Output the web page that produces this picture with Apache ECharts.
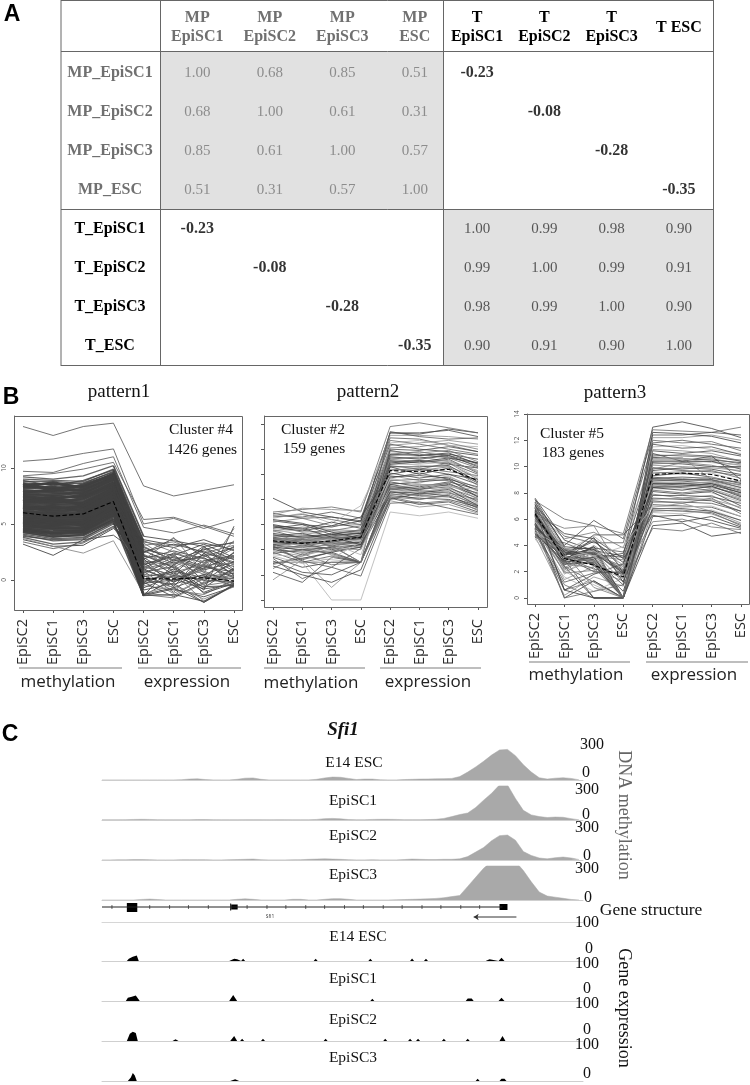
<!DOCTYPE html>
<html><head><meta charset="utf-8">
<style>html,body{margin:0;padding:0;background:#fff}#c{width:750px;height:1085px}</style>
<script src="https://cdn.jsdelivr.net/npm/echarts@6/dist/echarts.min.js"></script>
</head><body><div id="c"></div>
<script>
// ---------- Panel A data ----------
const rowNames = ['MP_EpiSC1','MP_EpiSC2','MP_EpiSC3','MP_ESC','T_EpiSC1','T_EpiSC2','T_EpiSC3','T_ESC'];
const mpColumns = ['MP\nEpiSC1','MP\nEpiSC2','MP\nEpiSC3','MP\nESC'];
const tColumns = ['T\nEpiSC1','T\nEpiSC2','T\nEpiSC3','T ESC'];
const mpCorr = [[1.00,0.68,0.85,0.51],[0.68,1.00,0.61,0.31],[0.85,0.61,1.00,0.57],[0.51,0.31,0.57,1.00]];
const tCorr = [[1.00,0.99,0.98,0.90],[0.99,1.00,0.99,0.91],[0.98,0.99,1.00,0.90],[0.90,0.91,0.90,1.00]];
const crossCorr = [-0.23,-0.08,-0.28,-0.35];

// ---------- Panel B data ----------
const sampleTicks = ['EpiSC2','EpiSC1','EpiSC3','ESC','EpiSC2','EpiSC1','EpiSC3','ESC'];
const pattern1Mean = [6.0,5.7,5.9,7.0,0.1,0.1,0.2,-0.1];
const pattern1Lines = [
[13.7,12.9,13.7,14.0,8.4,7.5,8.0,8.5],[10.6,10.8,11.3,11.7,5.0,5.5,4.6,5.4],[9.7,9.6,10.4,11.0,4.7,4.2,4.9,4.1],[9.3,9.5,9.9,10.5,5.4,5.6,4.8,3.9],
[9.2,9.0,9.3,10.2,3.9,3.5,3.0,3.3],[9.0,8.9,8.8,9.9,3.4,2.9,3.6,2.6],[8.8,8.8,8.6,9.7,3.1,3.4,2.4,3.1],[8.7,8.5,8.7,9.6,2.7,2.2,3.2,2.0],
[8.5,8.6,8.3,9.5,2.4,3.7,2.1,2.9],[8.4,8.2,8.4,9.4,2.2,1.4,2.6,1.6],[8.2,8.3,8.0,9.2,2.1,2.0,1.0,2.4],[8.0,7.9,8.1,9.1,1.9,2.6,1.9,1.2],
[7.9,7.8,7.7,9.0,1.6,0.9,2.3,1.9],[7.7,7.6,7.8,8.8,1.4,2.1,1.2,0.7],[7.6,7.5,7.4,8.7,1.2,0.4,1.7,2.2],[7.4,7.3,7.5,8.6,1.0,1.6,0.5,1.4],
[7.3,7.1,7.2,8.5,0.9,-0.1,1.4,0.3],[7.1,7.0,7.0,8.3,0.7,1.2,-0.4,1.0],[7.0,6.8,6.9,8.2,0.5,0.2,0.8,-0.3],[6.8,6.7,6.7,8.0,0.4,-0.7,0.3,0.6],
[6.7,6.5,6.5,7.9,0.3,0.7,-1.1,-0.1],[6.5,6.4,6.4,7.7,0.2,-1.2,0.1,0.4],[6.4,6.2,6.2,7.6,0.1,0.3,-0.6,-0.5],[6.2,6.0,6.0,7.4,0.0,-0.4,0.5,0.1],
[6.1,5.9,5.9,7.2,-0.1,0.6,-1.9,-0.4],[5.9,5.7,5.7,7.1,-0.2,-1.5,-0.2,0.2],[5.8,5.6,5.6,6.9,-0.3,0.0,0.4,-0.6],[5.6,5.4,5.4,6.8,-0.5,-0.9,-1.3,0.0],
[5.5,5.3,5.3,6.6,-0.7,0.4,0.0,-0.2],[5.3,5.1,5.1,6.5,-0.9,-0.3,-2.0,-0.5],[5.2,5.0,5.0,6.3,-1.2,-1.4,0.2,0.1],[5.0,4.8,4.9,6.2,-1.4,0.1,-0.8,-0.4],
[4.9,4.6,4.7,6.0,-1.4,-0.8,-1.5,-0.6],[4.7,4.5,4.5,5.9,-1.3,-1.6,-0.3,0.9],[4.6,4.3,4.4,5.7,0.6,1.8,0.9,1.6],[4.4,4.1,4.2,5.5,1.3,2.4,1.5,3.0],
[4.3,3.9,4.0,5.3,2.3,1.1,2.8,1.3],[4.1,3.7,3.8,5.1,-0.4,1.0,-0.9,4.8],[4.0,3.5,3.6,5.0,3.6,3.1,3.3,2.7],[3.8,3.2,3.4,4.8,1.8,3.8,0.6,4.6],
[3.6,3.0,3.1,4.6,2.6,1.5,2.2,0.8],[3.4,2.8,3.3,4.7,0.8,-1.1,1.8,-0.5],[3.2,2.2,3.6,4.0,2.0,0.5,2.9,1.8],[3.7,3.0,2.4,3.5,-1.2,-0.5,-1.7,-0.6],
[8.9,8.4,8.9,9.8,2.9,1.8,2.7,3.4],[8.3,8.7,8.2,9.3,3.5,2.5,1.5,2.2],[7.8,8.1,7.9,9.0,2.5,3.2,2.5,1.5],[7.5,7.2,7.6,8.6,1.7,1.3,3.0,0.9],
[7.2,6.9,7.3,8.4,2.8,0.7,1.4,2.8],[6.9,7.1,6.8,8.1,1.1,2.3,-0.1,1.7],[6.6,6.3,6.6,7.8,3.0,1.7,2.0,0.5],[6.3,6.6,6.1,7.5,0.8,2.9,1.6,-0.2],
[6.0,5.8,5.8,7.3,1.5,-0.2,1.1,2.1],[5.7,5.5,5.5,7.0,2.2,1.1,-0.7,1.1],[5.4,5.2,5.2,6.7,0.0,1.9,0.7,-0.4],[5.1,4.9,5.1,6.4,1.9,-0.6,2.4,0.4],
[4.8,4.7,4.6,6.1,-0.2,0.8,0.2,2.5],[4.5,4.2,4.3,5.8,0.4,2.2,-0.5,-0.1],[4.2,3.8,4.1,5.4,1.0,-0.2,1.3,0.2],[3.9,3.6,3.7,5.2,-1.4,1.4,-1.2,-0.3],
[8.6,8.0,8.5,9.4,1.3,0.3,0.9,3.5],[7.0,7.4,6.6,8.2,-1.4,-1.3,-1.9,-0.5],[6.5,6.1,6.3,7.7,-1.3,-0.7,-2.0,-0.4],[5.0,5.4,4.8,6.5,3.3,1.6,1.3,1.5]
];
const pattern2Mean = [4.7,4.5,4.7,5.0,10.3,10.2,10.4,9.5];
const pattern2Lines = [
[8.1,7.0,6.6,6.2,13.3,13.2,13.6,13.3],[7.0,7.2,7.4,7.0,13.8,14.1,13.7,13.3],[6.9,6.5,6.6,6.3,13.3,13.3,13.5,13.0],[6.8,7.3,7.2,7.1,13.1,13.1,13.0,12.8],
[6.7,6.6,7.0,6.5,12.9,12.8,12.3,11.8],[6.5,6.9,6.1,7.5,12.5,12.7,12.3,12.2],[6.3,6.0,5.8,6.3,12.4,12.0,11.8,11.5],[6.2,6.5,5.9,6.0,12.1,12.2,12.5,12.0],
[6.0,5.6,6.2,5.7,11.9,11.5,11.6,11.2],[5.9,5.4,5.5,5.9,11.6,11.8,11.4,10.7],[5.7,6.0,5.2,5.6,11.4,11.2,11.5,10.9],[5.6,5.2,5.5,5.3,11.2,11.4,11.0,10.3],
[5.5,4.9,5.3,5.5,11.1,10.9,11.2,10.1],[5.4,5.6,5.0,5.2,11.0,10.7,10.6,9.8],[5.3,5.0,5.1,5.3,10.9,11.1,10.8,10.5],[5.2,4.7,5.0,5.4,10.7,10.4,10.9,9.6],
[5.1,5.3,4.8,5.0,10.6,10.0,10.5,9.3],[5.0,4.6,4.9,5.1,10.3,10.5,10.2,9.9],[4.9,4.4,4.7,4.9,10.1,9.7,10.0,9.2],[4.8,5.0,4.5,4.8,9.9,9.5,9.8,8.9],
[4.7,4.3,4.6,5.0,9.7,10.1,9.6,9.0],[4.6,4.1,4.4,4.7,9.6,9.3,9.9,8.6],[4.5,4.8,4.3,4.6,9.4,9.0,9.4,8.8],[4.4,3.9,4.2,4.9,9.3,9.2,9.1,8.3],
[4.3,4.5,4.0,4.4,9.2,8.8,9.2,8.5],[4.2,3.6,4.3,3.0,9.1,8.6,8.9,8.1],[4.1,3.2,3.8,3.0,9.0,8.9,9.3,8.2],[4.0,4.2,3.6,3.0,8.9,8.4,8.7,7.9],
[3.8,3.0,3.5,3.0,8.8,8.7,8.5,8.0],[3.6,3.4,3.2,3.0,8.7,8.2,8.6,7.7],[3.4,2.6,3.0,3.0,8.6,8.3,8.2,7.5],[3.0,3.0,3.0,3.0,8.5,8.0,8.4,7.6],
[2.9,3.3,3.8,4.2,8.3,8.1,8.0,7.4],[2.5,3.7,2.8,3.0,8.2,7.7,7.9,7.2],[2.2,1.4,3.4,3.0,8.1,7.6,7.8,7.0],[1.6,3.2,1.0,3.0,7.9,7.4,7.6,6.9],
[3.3,1.7,2.6,1.9,7.7,7.8,7.3,6.8],[4.5,3.0,0.0,0.0,7.0,6.7,7.0,6.5],[2.7,2.0,1.4,2.4,8.0,8.5,8.3,7.3],
[5.2,5.0,4.9,5.1,11.8,11.7,11.9,11.0],[5.0,5.1,5.2,5.3,11.6,11.5,11.7,10.8],[4.9,4.8,5.0,5.0,11.5,11.6,11.3,10.5],[4.8,4.6,4.7,5.2,11.3,11.3,11.5,10.6],
[4.7,4.7,4.9,4.8,11.2,11.0,11.1,10.2],[4.6,4.5,4.6,4.9,11.0,11.1,10.9,10.0],[4.5,4.4,4.8,4.7,10.8,10.8,11.0,9.7],[4.4,4.6,4.5,4.6,10.6,10.6,10.7,9.4],
[4.3,4.2,4.4,4.5,10.4,10.3,10.6,9.1],[4.2,4.0,4.2,4.4,9.8,9.9,9.7,8.7],[4.1,4.3,4.1,4.3,9.5,9.6,9.5,8.4],[4.0,3.8,3.9,4.2,9.2,9.4,9.6,8.2],
[3.9,3.5,4.1,4.0,9.0,9.1,9.3,8.0],[3.7,4.0,3.7,3.0,8.9,8.8,9.0,7.8],[3.5,2.9,3.3,4.6,8.7,8.6,8.9,7.7],[5.9,5.7,5.0,4.4,8.6,8.5,8.8,7.5],
[5.5,5.8,5.6,5.5,8.4,8.4,8.6,7.4],[6.4,6.1,5.4,4.9,10.8,11.0,11.3,10.9],[6.6,6.8,6.4,6.0,12.7,12.4,12.0,11.6],[3.1,2.2,2.0,3.0,12.0,11.9,12.2,11.8],
[2.8,3.5,4.3,3.0,12.3,12.5,12.7,12.4],[4.3,3.1,2.6,4.1,13.4,13.0,12.8,12.9],[3.9,4.7,4.5,3.6,9.7,9.2,9.0,8.8],[5.8,5.5,5.9,6.6,10.0,10.4,10.0,9.6],
[4.8,4.9,4.3,3.0,8.2,8.0,8.3,7.1]
];
const pattern3Mean = [6.4,3.0,2.5,1.6,9.4,9.5,9.4,8.9];
const pattern3Lines = [
[7.6,4.4,3.6,3.2,13.0,13.4,12.9,12.2],[7.4,6.0,5.5,4.9,12.8,12.7,12.6,13.0],[7.3,4.0,5.9,4.5,12.4,12.4,12.6,12.4],[7.2,3.8,3.2,0.0,12.2,12.2,12.4,12.0],
[7.0,4.7,4.2,4.2,11.8,12.0,11.7,11.4],[6.9,3.6,4.7,3.0,11.5,11.6,11.3,11.0],[6.8,2.8,2.6,0.0,11.2,11.0,11.2,10.8],[6.7,4.5,5.0,3.8,10.9,10.8,10.7,10.5],
[6.6,3.3,3.4,2.0,10.7,10.6,10.5,10.3],[6.5,0.6,1.3,0.0,10.5,10.5,10.6,10.2],[6.4,3.5,3.0,3.4,10.3,10.2,10.0,10.0],[6.3,2.5,4.0,2.5,10.1,10.0,9.9,9.7],
[6.2,3.1,2.2,1.8,9.9,9.7,9.6,9.3],[6.1,1.8,3.6,1.9,9.6,9.4,9.5,8.9],[6.0,3.8,2.9,0.0,9.3,9.5,9.2,8.7],[5.9,2.2,3.2,2.9,9.1,9.0,8.9,8.4],
[5.8,0.0,1.3,0.0,9.0,8.9,8.7,8.2],[5.7,3.4,4.4,2.2,8.8,8.7,8.8,8.1],[5.6,2.9,0.0,0.0,8.7,8.6,8.5,7.8],[5.5,1.4,2.4,1.5,8.6,8.8,8.3,7.6],
[5.4,3.7,3.8,3.5,8.5,8.4,8.2,7.4],[5.3,2.0,1.0,0.0,8.3,8.3,8.0,7.3],[5.2,0.6,1.8,2.6,8.1,7.9,8.1,7.0],[5.1,3.0,3.5,1.2,7.9,7.6,7.8,6.8],
[5.0,2.6,2.7,0.5,7.6,7.5,7.4,6.6],[4.9,1.0,0.0,0.0,7.4,7.2,7.6,6.4],[4.8,3.2,4.8,4.8,7.1,7.0,6.9,6.2],[4.7,0.2,1.6,0.9,6.9,7.2,6.6,5.7],
[4.6,4.2,3.3,2.4,6.7,6.6,6.5,5.5],[4.5,1.6,0.5,1.5,6.5,6.4,6.7,5.9],[6.6,4.9,4.5,3.0,6.3,5.8,6.2,5.4],[6.2,5.3,5.5,1.9,5.8,6.0,5.4,5.2],
[5.6,2.4,0.0,0.0,5.5,5.7,4.7,5.0],[5.3,0.0,0.5,1.0,5.3,5.1,5.7,4.9],[7.1,2.8,3.9,0.0,11.0,10.4,10.8,9.0],[6.8,3.0,3.1,0.0,10.6,10.7,9.0,7.7],
[6.3,3.5,2.6,0.0,9.2,9.0,9.0,8.6],[6.0,2.7,3.0,0.0,8.9,8.9,9.2,8.5],[5.5,3.1,2.0,1.9,8.4,8.5,8.7,8.0],[6.9,2.3,3.5,1.7,9.8,10.3,10.4,10.1],
[7.5,3.9,3.7,0.0,12.6,12.5,12.3,11.8],[7.3,3.4,3.5,0.0,12.0,11.8,11.9,11.2],[7.1,3.2,2.9,1.0,11.7,11.4,11.5,10.9],[6.9,3.7,3.3,0.0,11.3,11.2,11.0,10.4],
[6.8,2.5,3.7,2.0,10.8,10.9,10.8,10.4],[6.6,3.6,3.0,0.0,10.5,10.6,10.3,10.1],[6.5,3.0,3.9,1.8,10.4,10.4,10.4,9.8],[6.4,2.6,2.3,0.0,10.2,10.3,10.1,9.6],
[6.3,3.3,3.7,2.1,9.7,9.9,9.8,9.4],[6.2,2.9,2.8,0.0,9.5,9.6,9.7,9.1],[6.1,3.5,3.3,3.1,9.1,9.2,9.1,8.8],[6.0,2.1,3.8,1.6,9.0,9.1,8.9,8.6],
[5.9,3.7,2.5,0.0,8.9,9.0,9.0,8.4],[5.8,3.0,3.6,2.2,8.8,8.8,8.8,8.3],[5.7,2.7,3.1,0.0,8.7,8.7,8.6,8.0],[5.6,1.9,2.1,1.3,8.6,8.5,8.4,7.9],
[5.5,3.3,4.3,2.7,8.4,8.2,8.5,7.7],[5.4,2.4,1.2,0.0,8.2,8.0,8.2,7.5],[5.3,3.6,3.4,1.9,7.8,7.8,7.7,7.2],[5.2,2.0,2.9,0.0,7.5,7.6,7.5,6.9],
[5.1,1.2,1.9,2.0,7.3,7.3,7.2,6.6],[5.0,3.8,3.2,3.9,7.0,6.9,7.0,6.2],[4.9,2.8,4.6,1.2,6.8,6.8,6.6,5.9],[4.7,3.4,0.8,0.0,6.6,6.7,6.4,5.6],
[6.7,0.6,0.0,0.0,6.2,6.3,5.9,5.3],[7.0,3.1,2.8,0.0,9.9,9.8,10.0,9.9]
];
const lineShades = ['#3c3c3c','#666666','#484848','#8c8c8c','#555555','#b0b0b0','#404040','#777777'];

// ---------- Panel C data ----------
const trackBins = [0,8,16,24,32,40,48,56,64,72,80,88,96,104,112,120,128,136,144,152,160,168,176,184,192,200,208,216,224,232,240,248,256,264,272,280,288,296,304,312,320,328,336,344,352,360,368,376,384,392,400,408,416,424,432,440,448,456,464,472,480];
const methE14 = [1,1,1,1,1,1,1,1,1,1, 3,8,10,4,1,1,1,6,16,18, 6,1,1,1,1,1,1,6,18,26, 24,14,4,8,8,2,1,1,4,6, 8,9,10,12,14,30,70,115,165,220, 265,270,215,135,70,20,8,16,20,14,2];
const methEpi1 = [2,2,2,3,5,6,5,3,2,2, 2,2,4,4,3,2,2,2,3,3, 3,2,3,3,2,2,2,5,12,14, 10,4,2,2,5,6,6,5,3,3, 3,4,6,14,30,48,62,110,175,235, 310,310,190,85,45,30,22,26,24,12,2];
const methEpi2 = [1,1,2,2,4,4,3,1,1,1, 3,3,3,3,1,1,3,4,6,8, 3,1,1,1,2,3,6,8,10,8, 6,3,1,1,2,1,1,1,4,8, 6,4,4,6,6,10,30,70,110,170, 215,220,175,75,40,18,10,20,26,18,4];
const methEpi3 = [0,0,0,0,0,5,8,4,0,0, 0,0,0,0,0,0,0,6,10,6, 0,0,0,0,6,6,0,0,6,12, 12,6,0,0,0,0,0,2,4,6, 8,10,14,20,30,40,120,200,280,340, 340,340,340,260,160,70,35,25,15,5,0];
const exprE14Pos = [25,27,29,31,33,35,37,128,130,133,136,138,140,142,144,213,215,217,268,270,272,310,312,314,324,326,328,386,388,390,392,399,402,405];
const exprE14Val = [0,6,9,12,11,15,0,0,5,6,5,0,0,6,0,0,6,0,0,6,0,0,7,0,0,6,0,0,5,5,0,0,9,0];
const exprEpi1Pos = [24,26,28,30,32,34,36,38,128,132,136,206,208,210,270,272,274,307,309,311,343,345,347,366,368,370,372,374,399,402,405];
const exprEpi1Val = [0,9,8,12,9,15,12,0,0,17,0,0,5,0,0,6,0,0,5,0,0,5,0,0,7,5,7,0,0,9,0];
const exprEpi2Pos = [25,28,31,34,36,71,74,77,84,86,88,129,133,136,139,141,143,160,162,164,175,177,179,223,225,227,283,285,287,308,310,312,316,318,320,342,344,346,366,368,370,400,403,406,428,430,432];
const exprEpi2Val = [0,20,26,22,0,0,5,0,0,5,0,0,14,0,0,6,0,0,6,0,0,5,0,0,6,0,0,6,0,0,6,0,0,6,0,0,6,0,0,6,0,0,14,0,0,5,0];
const exprEpi3Pos = [26,29,31,33,35,129,131,134,136,138,297,299,301,376,378,380,400,402,405,407];
const exprEpi3Val = [0,10,22,15,0,0,4,5,0,0,0,4,0,0,6,0,0,6,6,0];
const geneBackbone = [[0,15],[403,15]];
const geneTicks = [10,48,68,87,107,146,166,185,205,224,244,263,283,302,322,341,361,380];
const geneExons = [[25,35.5,10,19],[129,130,11.5,18.5],[130,136.5,12.5,17.5],[400,408,12,18]];
const geneArrow = [[417,5],[374,5]];

const serif = '"Liberation Serif","Times New Roman",serif';
const sans = '"Open Sans","Noto Sans",sans-serif';
const grids = [], xAxes = [], yAxes = [], series = [], graphic = [];
const t = (text,x,y,o={}) => graphic.push({type:'text',x,y,rotation:o.rot||0,silent:true,z:50,
  style:{text,fill:o.color||'#111',font:(o.weight||'')+' '+(o.size||14)+'px '+(o.family||serif),textAlign:o.align||'center',textVerticalAlign:'middle'}});
const gline = (x1,y1,x2,y2,color,w) => graphic.push({type:'line',silent:true,z:40,shape:{x1,y1,x2,y2},style:{stroke:color,lineWidth:w}});
const grect = (x,y,w,h,fill) => graphic.push({type:'rect',silent:true,z:-5,shape:{x,y,width:w,height:h},style:{fill}});

// ---------- Panel A ----------
const greyText = '#707070', blackText = '#000';
grect(161,52,282.5,157.5,'#e1e1e1'); grect(444,210,269,155.5,'#e1e1e1');
[[61,0.5,713.5,0.5],[61,51.5,713.5,51.5],[61,209.5,713.5,209.5],[61,365.5,713.5,365.5],[61,0,61,366],[713.5,0,713.5,366],[160.5,0,160.5,366],[443.5,0,443.5,366]].forEach(l=>gline(l[0],l[1],l[2],l[3],'#666',1));
function tableAxis(cols,left,width,first){
  const i = grids.length;
  grids.push({left,width,top:53.5,height:312});
  const colors = first?greyText:blackText;
  xAxes.push({gridIndex:i,type:'category',position:'top',data:cols,axisLine:{show:false},axisTick:{show:false},
    axisLabel:{interval:0,margin:7,color:colors,fontFamily:serif,fontWeight:'bold',fontSize:16,lineHeight:19,
      formatter:v=>v.indexOf('\n')<0?'{one|'+v+'}':v,rich:{one:{lineHeight:38,color:colors,fontFamily:serif,fontWeight:'bold',fontSize:16}}}});
  yAxes.push({gridIndex:i,type:'category',inverse:true,show:first,
    data:rowNames.map((n,r)=>({value:n,textStyle:{color:r<4?greyText:blackText,align:'center',fontFamily:serif,fontWeight:'bold',fontSize:16}})),
    axisLine:{show:false},axisTick:{show:false},
    axisLabel:{interval:0,fontFamily:serif,fontWeight:'bold',fontSize:16,align:'center',margin:51}});
  return i;
}
function cellSeries(i,data,color,weight){
  series.push({type:'scatter',xAxisIndex:i,yAxisIndex:i,symbolSize:0,data,silent:true,animation:false,
    label:{show:true,position:'inside',formatter:p=>p.value[2].toFixed(2),color,fontFamily:serif,fontSize:weight?16:15,fontWeight:weight||'normal'}});
}
const g0 = tableAxis(mpColumns,161,290,true), g1 = tableAxis(tColumns,443.5,269,false);
cellSeries(g0,mpCorr.flatMap((r,y)=>r.map((v,x)=>[x,y,v])),'#777777');
cellSeries(g0,crossCorr.map((v,k)=>[k,k+4,v]),'#000','bold');
cellSeries(g1,crossCorr.map((v,k)=>[k,k,v]),'#000','bold');
cellSeries(g1,tCorr.flatMap((r,y)=>r.map((v,x)=>[x,y+4,v])),'#333333');

// ---------- Panel B ----------
function pattern(o){
  const i = grids.length;
  grids.push({left:o.first,width:o.last-o.first,top:o.top,height:o.bottom-o.top});
  xAxes.push({gridIndex:i,type:'category',boundaryGap:false,data:sampleTicks,
    axisLine:{show:false,onZero:false},axisTick:{length:3,lineStyle:{color:'#555'},alignWithLabel:true,interval:0},
    axisLabel:{interval:0,rotate:90,margin:o.margin,color:'#2a2a2a',fontFamily:sans,fontSize:14.5}});
  yAxes.push({gridIndex:i,type:'value',min:o.min,max:o.max,offset:o.first-o.left,splitLine:{show:false},
    axisLine:{show:true,lineStyle:{color:'#666'}},
    axisTick:{show:true,length:3,customValues:o.ticks,lineStyle:{color:'#555'}},
    axisLabel:{show:!!o.labels,customValues:o.labels||[],rotate:90,fontSize:6.5,color:'#555',margin:6,fontFamily:sans}});
  graphic.push({type:'rect',silent:true,z:30,shape:{x:o.left+.5,y:o.top+.5,width:o.right-o.left,height:o.bottom-o.top},style:{fill:'none',stroke:'#666',lineWidth:1}});
  const add = (data,width,color,opacity) => series.push({type:'line',xAxisIndex:i,yAxisIndex:i,data,showSymbol:false,silent:true,animation:false,lineStyle:{width,color,opacity}});
  const part = (d,from,to) => d.slice(from,to).map((v,j)=>[j+from,v]);
  o.lines.forEach((d,k)=>{
    const shade = lineShades[k%lineShades.length];
    if(o.solid && !(k<4 || (k>=40 && k<44))){
      const edge = d[0]>8.6 || d[0]<4.3;
      add(part(d,0,4),edge?1.3:2.6,'#404040',edge?.8:.95);
      add(part(d,3,5),1.7,'#404040',.9);
      add(part(d,4,8),1,k%3?'#4a4a4a':'#777777',.9);
    } else add(d.map((v,j)=>[j,v]),o.width,k<4&&o.solid?'#666':shade,o.opacity);
  });
  series.push({type:'line',xAxisIndex:i,yAxisIndex:i,data:o.mean,showSymbol:false,silent:true,animation:false,z:5,
    lineStyle:{width:1.1,color:'#000',type:'dashed'}});
}
pattern({left:14,right:242,first:23,last:234,top:416,bottom:610,min:-2.68,max:14.64,ticks:[0,5,10],labels:[0,5,10],lines:pattern1Lines,mean:pattern1Mean,width:1,opacity:.9,solid:true,margin:9});
pattern({left:264,right:487,first:273,last:478,top:416,bottom:607,min:-0.56,max:14.64,ticks:[0,2,4,6,8,10,12,14],lines:pattern2Lines,mean:pattern2Mean,width:1,opacity:.8,margin:12});
pattern({left:527,right:749,first:535,last:741,top:414,bottom:604,min:-0.46,max:14,ticks:[0,2,4,6,8,10,12,14],labels:[0,2,4,6,8,10,12,14],lines:pattern3Lines,mean:pattern3Mean,width:1,opacity:.8,margin:9});

[['pattern1',119,392],['pattern2',368,392],['pattern3',615,393]].forEach(a=>t(a[0],a[1],a[2],{size:19}));
[['Cluster #4',201,430],['1426 genes',202,450],['Cluster #2',313,430],['159 genes',314,449],['Cluster #5',572,434],['183 genes',573,453]].forEach(a=>t(a[0],a[1],a[2],{size:15.5}));
[[19,122,668],[138,241,668],[264,365,668],[380,481,668],[529,630,662],[646,748,662]].forEach(a=>gline(a[0],a[2],a[1],a[2],'#a8a8a8',1.6));
[['methylation',68,682],['expression',187,682],['methylation',311,683],['expression',428,682],['methylation',576,675],['expression',694,675]].forEach(a=>t(a[0],a[1],a[2],{size:17,family:sans,color:'#222'}));

// ---------- Panel C ----------
function track(baseline,height,maxV,data,color,lw){
  const i = grids.length;
  grids.push({left:102,width:481,top:baseline-height,height});
  xAxes.push({gridIndex:i,type:'value',min:0,max:484,axisLabel:{show:false},axisTick:{show:false},splitLine:{show:false},axisLine:{lineStyle:{color:'#cfcfcf',width:1}}});
  yAxes.push({gridIndex:i,type:'value',min:0,max:maxV,show:false,splitLine:{show:false}});
  series.push({type:'line',xAxisIndex:i,yAxisIndex:i,data,showSymbol:false,silent:true,animation:false,clip:true,
    lineStyle:{width:lw,color},areaStyle:{color,opacity:1}});
}
const zip = (a,b)=>a.map((v,k)=>[v,b[k]]);
[[780,methE14],[820,methEpi1],[860,methEpi2],[900,methEpi3]].forEach(a=>track(a[0],34,300,zip(trackBins,a[1]),'#a9a9a9',0.5));
[[961,exprE14Pos,exprE14Val],[1001,exprEpi1Pos,exprEpi1Val],[1041,exprEpi2Pos,exprEpi2Val],[1081,exprEpi3Pos,exprEpi3Val]].forEach(a=>track(a[0],36,100,zip(a[1],a[2]),'#000',0));

const gi = grids.length;
grids.push({left:102,width:481,top:899,height:23});
xAxes.push({gridIndex:gi,type:'value',min:0,max:484,axisLabel:{show:false},axisTick:{show:false},splitLine:{show:false},axisLine:{lineStyle:{color:'#d6d6d6'}}});
yAxes.push({gridIndex:gi,type:'value',min:0,max:23,show:false,splitLine:{show:false}});
series.push({type:'line',xAxisIndex:gi,yAxisIndex:gi,data:geneBackbone,showSymbol:false,silent:true,animation:false,lineStyle:{color:'#222',width:1}});
series.push({type:'scatter',xAxisIndex:gi,yAxisIndex:gi,data:geneTicks.map(p=>[p,15]),symbol:'rect',symbolSize:[1,4],itemStyle:{color:'#444'},silent:true,animation:false});
series.push({type:'custom',xAxisIndex:gi,yAxisIndex:gi,data:geneExons,silent:true,animation:false,
  renderItem:(p,api)=>{const a=api.coord([api.value(0),api.value(3)]),b=api.coord([api.value(1),api.value(2)]);
    return {type:'rect',shape:{x:a[0],y:a[1],width:b[0]-a[0],height:b[1]-a[1]},style:{fill:'#000'}};}});
series.push({type:'line',xAxisIndex:gi,yAxisIndex:gi,data:[{value:geneArrow[0],symbol:'none'},{value:geneArrow[1],symbol:'arrow',symbolSize:5,symbolRotate:90}],showSymbol:true,silent:true,animation:false,
  lineStyle:{color:'#333',width:1},itemStyle:{color:'#333'}});
t('Sfi1',270,917,{size:5,family:sans,color:'#333'});

t('Sfi1',343,730,{size:19,weight:'italic bold'});
[['E14 ESC',354,763],['EpiSC1',353,801],['EpiSC2',353,836],['EpiSC3',353,875],['E14 ESC',358,937],['EpiSC1',353,979],['EpiSC2',353,1020],['EpiSC3',353,1058]].forEach(a=>t(a[0],a[1],a[2],{size:15.5}));
[['300',592,745],['0',586,773],['300',587,790],['0',586,815],['300',587,828],['0',587,856],['300',587,869],['0',588,898],
 ['100',587,923],['0',589,949],['100',587,964],['0',587,989],['100',587,1004],['0',587,1030],['100',587,1045],['0',587,1074]].forEach(a=>t(a[0],a[1],a[2],{size:16}));
t('Gene structure',651,910,{size:17.5});
t('DNA methylation',624,815,{size:18,rot:-Math.PI/2,color:'#666'});
t('Gene expression',624,1008,{size:18,rot:-Math.PI/2});
[['A',12,15],['B',11,398],['C',10,735]].forEach(a=>t(a[0],a[1],a[2],{size:23,weight:'bold',family:'"Liberation Sans",Arial,sans-serif',color:'#000'}));

const chart = echarts.init(document.getElementById('c'),null,{renderer:'canvas'});
chart.setOption({animation:false,backgroundColor:'#fff',grid:grids,xAxis:xAxes,yAxis:yAxes,series,graphic:{elements:graphic}});
</script></body></html>
